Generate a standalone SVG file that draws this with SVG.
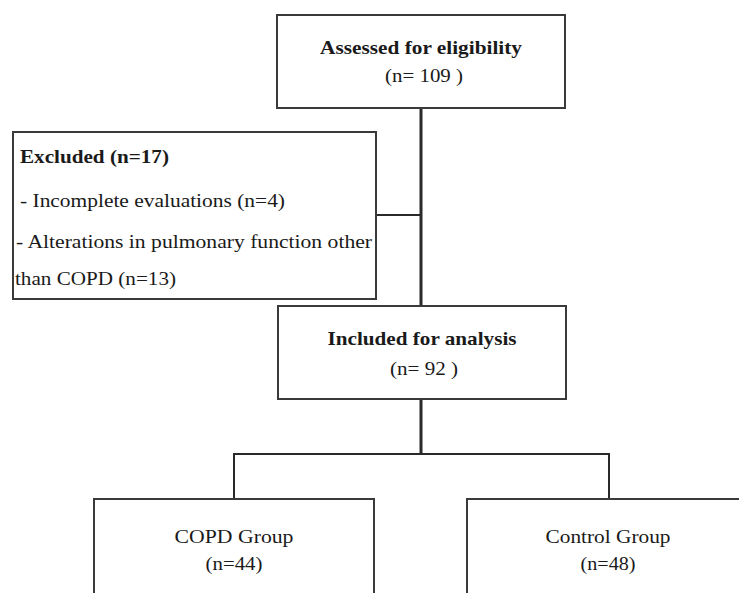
<svg xmlns="http://www.w3.org/2000/svg" width="739" height="593" viewBox="0 0 739 593" font-family="Liberation Serif, Times New Roman, Times, serif">
<style>
.box{fill:#fff;stroke:#3a3a3a;stroke-width:2}
.t{font-size:19px;fill:#1a1a1a}
.b{font-weight:bold}
.c{text-anchor:middle}
.ln{stroke:#2a2a2a;fill:none}
</style>
<rect width="739" height="593" fill="#fff"/>
<g id="connectors">
<line class="ln" x1="421" y1="108" x2="421" y2="307" stroke-width="3"/>
<line class="ln" x1="376" y1="215" x2="421" y2="215" stroke-width="2"/>
<line class="ln" x1="421" y1="399" x2="421" y2="455" stroke-width="3"/>
<polyline class="ln" points="234,499 234,454 609,454 609,499" stroke-width="2"/>
</g>
<g id="assessed">
<rect class="box" x="277" y="15" width="288" height="93"/>
<text class="t b c" x="421" y="54" textLength="202" lengthAdjust="spacingAndGlyphs">Assessed for eligibility</text>
<text class="t c" x="424" y="82" textLength="78" lengthAdjust="spacingAndGlyphs">(n= 109 )</text>
</g>
<g id="excluded">
<rect class="box" x="13" y="132" width="363" height="167"/>
<text class="t b" x="20" y="163" textLength="149" lengthAdjust="spacingAndGlyphs">Excluded (n=17)</text>
<text class="t" x="20" y="207" textLength="265" lengthAdjust="spacingAndGlyphs">- Incomplete evaluations (n=4)</text>
<text class="t" x="16" y="248" textLength="356" lengthAdjust="spacingAndGlyphs">- Alterations in pulmonary function other</text>
<text class="t" x="15" y="285" textLength="161" lengthAdjust="spacingAndGlyphs">than COPD (n=13)</text>
</g>
<g id="included">
<rect class="box" x="278" y="306" width="288" height="93"/>
<text class="t b c" x="422" y="345" textLength="189" lengthAdjust="spacingAndGlyphs">Included for analysis</text>
<text class="t c" x="424" y="375" textLength="68" lengthAdjust="spacingAndGlyphs">(n= 92 )</text>
</g>
<g id="copd">
<rect class="box" x="94" y="499" width="280" height="110"/>
<text class="t c" x="234" y="543" textLength="119" lengthAdjust="spacingAndGlyphs">COPD Group</text>
<text class="t c" x="234" y="570" textLength="57" lengthAdjust="spacingAndGlyphs">(n=44)</text>
</g>
<g id="control">
<rect class="box" x="467" y="499" width="290" height="110"/>
<text class="t c" x="608" y="543" textLength="125" lengthAdjust="spacingAndGlyphs">Control Group</text>
<text class="t c" x="608" y="570" textLength="55" lengthAdjust="spacingAndGlyphs">(n=48)</text>
</g>
</svg>
